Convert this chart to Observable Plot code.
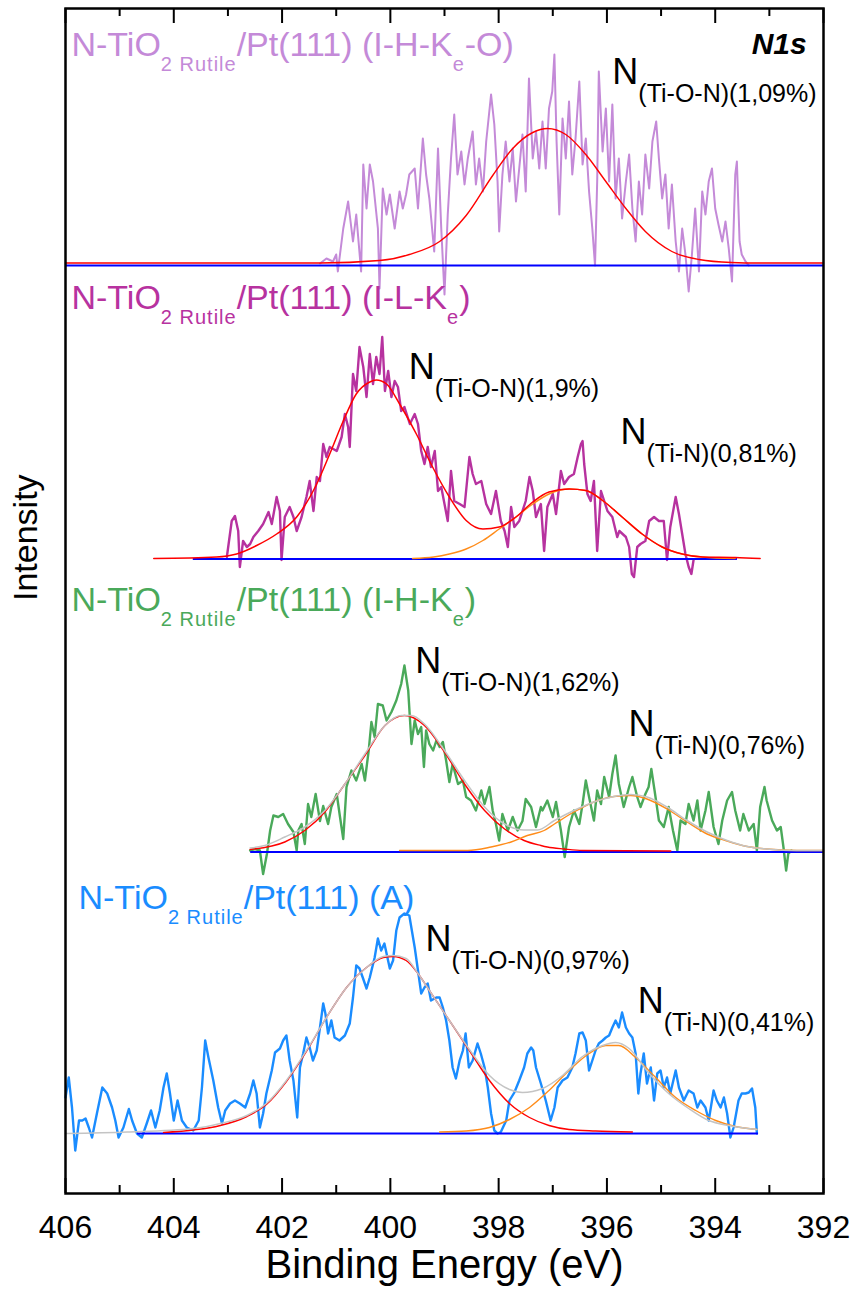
<!DOCTYPE html>
<html><head><meta charset="utf-8">
<script src="https://cdn.jsdelivr.net/npm/d3@7"></script>
<script src="https://cdn.jsdelivr.net/npm/@observablehq/plot@0.6"></script>
<style>
html,body{margin:0;padding:0;background:#fff;}
#chart svg{display:block;}
</style></head><body><div id="chart"></div>
<script>
// ---------- axis ----------
const xTicksMajor = [406,404,402,400,398,396,394,392];
const xTicksMinor = [405,403,401,399,397,395,393];
const xLabel = "Binding Energy (eV)";
const yLabel = "Intensity";
const coreLevel = "N1s";

// vertical offsets of the stacked spectra (intensity units)
const offsets = [928, 634.5, 341.5, 60];
const seriesColors = ["#c48ad8", "#b7329f", "#4aa95a", "#1a8cff"];
const sampleTitles = [
  "N-TiO_{2 Rutile}/Pt(111) (I-H-K_{e}-O)",
  "N-TiO_{2 Rutile}/Pt(111) (I-L-K_{e})",
  "N-TiO_{2 Rutile}/Pt(111) (I-H-K_{e})",
  "N-TiO_{2 Rutile}/Pt(111) (A)"
];
const titleX = [405.89, 405.89, 405.89, 405.76];
const titleY = [1138, 885, 583, 285];

const peakLabels = ["N_{(Ti-O-N)(1,09%)}", "N_{(Ti-O-N)(1,9%)}", "N_{(Ti-N)(0,81%)}", "N_{(Ti-O-N)(1,62%)}", "N_{(Ti-N)(0,76%)}", "N_{(Ti-O-N)(0,97%)}", "N_{(Ti-N)(0,41%)}"];
const peakLabelX = [395.90, 399.66, 395.75, 399.54, 395.60, 399.35, 395.43];
const peakLabelY = [1110, 815, 750, 521, 458, 243, 181];

// extents of the background lines [from, to] in eV
const baseExtents = [[406, 392], [403.64, 393.59], [402.58, 392], [404.67, 393.2]];

// ---------- spectrum 1 : I-H-Ke-O ----------
const ihkeoData = [[401.30,2],[401.18,7],[401.06,4],[401.00,11],[400.97,-6],[400.87,37],[400.78,64],[400.69,24],[400.63,51],[400.54,-6],[400.50,101],[400.44,57],[400.38,101],[400.32,84],[400.23,37],[400.20,-23],[400.14,77],[400.07,51],[400.01,71],[399.92,37],[399.83,74],[399.77,57],[399.71,71],[399.65,91],[399.55,97],[399.49,57],[399.40,127],[399.34,91],[399.28,67],[399.19,14],[399.12,117],[399.06,37],[399.00,-29],[398.94,51],[398.88,107],[398.82,151],[398.76,91],[398.69,114],[398.63,81],[398.57,107],[398.48,134],[398.42,81],[398.36,107],[398.29,74],[398.23,124],[398.14,171],[398.08,141],[398.02,84],[397.99,34],[397.93,91],[397.87,124],[397.80,84],[397.74,117],[397.68,64],[397.62,97],[397.56,131],[397.50,74],[397.44,187],[397.37,107],[397.31,134],[397.25,97],[397.19,144],[397.13,97],[397.07,157],[397.01,174],[396.97,211],[396.93,124],[396.88,51],[396.82,147],[396.76,107],[396.70,164],[396.64,91],[396.58,127],[396.51,184],[396.45,101],[396.39,127],[396.33,74],[396.27,37],[396.22,0],[396.18,84],[396.15,194],[396.08,114],[396.02,157],[395.96,84],[395.90,161],[395.84,67],[395.78,107],[395.72,47],[395.65,84],[395.59,111],[395.53,57],[395.47,24],[395.41,84],[395.35,51],[395.29,111],[395.22,77],[395.16,124],[395.09,144],[395.04,107],[394.98,67],[394.92,91],[394.86,37],[394.80,81],[394.73,24],[394.67,-6],[394.61,37],[394.55,11],[394.49,-26],[394.43,11],[394.37,57],[394.30,-6],[394.24,74],[394.18,51],[394.12,84],[394.06,97],[394.00,57],[393.94,41],[393.87,24],[393.81,44],[393.75,17],[393.69,-16],[393.63,91],[393.60,104],[393.55,24],[393.51,11],[393.44,4],[393.38,0]];
const ihkeoFitTiON = [[406.0,2.5],[401.30,2.5],[400.20,5],[399.65,11],[399.09,24],[398.60,50],[398.11,90],[397.74,117],[397.37,133],[397.10,137],[396.76,131],[396.39,111],[396.02,84],[395.65,57],[395.29,34],[394.80,14],[394.30,6],[393.70,3],[393.20,2.5],[392.0,2.5]];

// ---------- spectrum 2 : I-L-Ke ----------
const ilkeData = [[403.02,2],[402.93,38],[402.87,43],[402.81,28],[402.78,-8],[402.72,18],[402.65,12],[402.59,15],[402.53,22],[402.44,28],[402.35,35],[402.25,47],[402.19,35],[402.10,62],[402.04,48],[402.01,-1],[401.95,42],[401.86,52],[401.79,42],[401.73,28],[401.64,42],[401.55,62],[401.49,78],[401.42,48],[401.36,82],[401.30,78],[401.24,115],[401.18,102],[401.12,112],[400.99,108],[400.90,122],[400.84,145],[400.78,132],[400.75,112],[400.69,185],[400.63,168],[400.57,212],[400.50,192],[400.44,162],[400.38,205],[400.32,175],[400.26,202],[400.20,185],[400.15,222],[400.10,168],[400.04,188],[399.98,162],[399.92,178],[399.86,172],[399.80,148],[399.74,152],[399.64,135],[399.55,145],[399.49,135],[399.43,108],[399.37,95],[399.31,112],[399.25,92],[399.18,108],[399.12,68],[399.06,72],[399.00,55],[398.94,38],[398.88,88],[398.82,58],[398.72,55],[398.63,52],[398.54,102],[398.48,85],[398.42,75],[398.32,78],[398.23,55],[398.14,45],[398.05,68],[397.96,38],[397.89,28],[397.83,12],[397.77,52],[397.71,32],[397.62,38],[397.50,58],[397.43,82],[397.37,68],[397.31,42],[397.22,55],[397.16,8],[397.10,52],[397.00,65],[396.94,45],[396.85,88],[396.79,75],[396.70,82],[396.61,85],[396.54,102],[396.48,115],[396.45,118],[396.42,95],[396.36,65],[396.30,58],[396.24,78],[396.18,8],[396.11,68],[396.05,58],[395.99,48],[395.90,42],[395.81,22],[395.77,28],[395.65,22],[395.59,12],[395.54,-15],[395.50,-18],[395.44,12],[395.38,15],[395.29,18],[395.22,38],[395.13,42],[395.04,38],[394.95,38],[394.89,-1],[394.83,32],[394.73,62],[394.67,45],[394.61,25],[394.55,5],[394.49,-8],[394.44,-15],[394.40,-1]];
const ilkeEnvelope = [[404.37,0.5],[403.21,2],[402.84,5],[402.47,13.5],[402.10,25],[401.73,42],[401.36,75],[401.12,105],[400.87,138],[400.63,165],[400.38,177],[400.26,179],[400.07,175],[399.83,155],[399.52,125],[399.22,92],[398.91,62],[398.60,38.5],[398.29,30],[397.99,32],[397.68,42],[397.37,57],[397.07,67],[396.70,70],[396.39,68.5],[396.08,58.5],[395.72,42],[395.35,25],[394.98,12],[394.61,5],[394.24,2],[393.63,1.5],[393.17,0.5]];
const ilkeFitTiN = [[399.59,0.5],[399.20,2],[398.91,5],[398.60,10],[398.29,18.5],[397.99,30],[397.68,42],[397.37,55],[397.07,65],[396.70,70],[396.39,68.5],[396.08,58.5],[395.72,42],[395.35,25],[394.98,12],[394.61,5],[394.24,2],[393.63,0.5]];

// ---------- spectrum 3 : I-H-Ke ----------
const ihkeData = [[402.59,1.5],[402.50,3],[402.41,1.5],[402.35,-22],[402.28,-2],[402.22,21.5],[402.16,36.5],[402.07,35],[401.98,38],[401.89,28],[401.79,20],[401.73,1.5],[401.70,21.5],[401.64,28],[401.58,8],[401.52,48],[401.46,35],[401.38,58],[401.30,31],[401.24,46],[401.15,28],[401.09,45],[400.99,58],[400.93,35],[400.87,13],[400.81,65],[400.72,81.5],[400.63,71.5],[400.53,88],[400.47,71.5],[400.40,101.5],[400.35,130],[400.29,115],[400.23,148],[400.14,146.5],[400.07,131.5],[399.98,140],[399.89,151.5],[399.80,168],[399.74,186.5],[399.67,161.5],[399.61,108],[399.55,131.5],[399.49,118],[399.43,125],[399.38,85],[399.34,121.5],[399.28,108],[399.21,101.5],[399.15,111.5],[399.09,105],[399.03,110],[398.97,91.5],[398.91,70],[398.85,88],[398.75,68],[398.66,71.5],[398.60,55],[398.51,51.5],[398.42,41.5],[398.32,61.5],[398.26,48],[398.17,65],[398.11,41.5],[398.05,28],[397.99,11.5],[397.93,38],[397.83,21.5],[397.74,35],[397.65,21.5],[397.56,31],[397.50,53],[397.40,45],[397.31,25],[397.22,45],[397.19,41.5],[397.10,51.5],[397.00,35],[396.94,50],[396.85,21.5],[396.78,-5],[396.70,25],[396.61,41.5],[396.51,28],[396.45,48],[396.39,71.5],[396.33,55],[396.24,31.5],[396.18,61.5],[396.11,48],[396.05,75],[395.96,55],[395.90,78],[395.84,96.5],[395.78,68],[395.69,45],[395.59,65],[395.53,75],[395.44,55],[395.38,45],[395.29,58],[395.23,65],[395.18,83],[395.12,61.5],[395.04,31.5],[394.95,25],[394.86,45],[394.78,21.5],[394.70,1.5],[394.64,31.5],[394.55,28],[394.49,48],[394.40,31.5],[394.33,51.5],[394.27,21.5],[394.18,41.5],[394.12,60],[394.03,25],[393.94,8],[393.87,31.5],[393.78,51.5],[393.69,60],[393.63,41.5],[393.54,21.5],[393.48,38],[393.38,21.5],[393.29,28],[393.23,1.5],[393.17,45],[393.09,65],[393.05,51.5],[392.95,31.5],[392.86,21.5],[392.79,25],[392.74,5],[392.69,-18.5],[392.65,-1.5],[392.59,1.5]];
const ihkeEnvelope = [[402.59,4],[402.32,6.5],[401.95,15],[401.58,25],[401.21,41.5],[400.84,68],[400.47,98],[400.10,126.5],[399.80,136.5],[399.61,136.5],[399.37,128],[399.00,101.5],[398.63,71.5],[398.26,45],[397.89,28],[397.53,22],[397.28,22],[396.97,31.5],[396.61,41.5],[396.24,50],[395.87,55.5],[395.56,57.5],[395.26,55],[394.89,45],[394.52,31.5],[394.15,20],[393.78,11.5],[393.41,5.5],[393.05,3],[392.49,1.5],[392.0,1.5]];
const ihkeFitTiON = [[402.59,2.5],[401.95,10],[401.58,21.5],[401.21,40],[400.84,68],[400.47,96.5],[400.10,126.5],[399.74,136.5],[399.37,126.5],[399.00,100],[398.63,68],[398.26,41.5],[397.89,23],[397.53,11.5],[397.22,6.5],[397.10,5],[396.79,3],[396.45,1.5],[394.82,1]];
const ihkeFitTiN = [[399.83,1.5],[398.57,1.5],[398.14,5],[397.77,10],[397.47,16.5],[397.16,21.5],[396.97,28],[396.61,40],[396.24,50],[395.87,55.5],[395.56,56.5],[395.26,53],[394.89,43],[394.52,30],[394.15,18],[393.78,11],[393.41,5.5],[393.05,3],[392.49,1.5],[392.0,1.5]];

// ---------- spectrum 4 : A ----------
const aData = [[406.00,36],[405.94,56],[405.88,26],[405.82,-17],[405.75,13],[405.69,13],[405.63,15],[405.57,6],[405.51,-4],[405.42,20],[405.32,46],[405.23,40],[405.14,26],[405.08,13],[405.02,-4],[404.93,6],[404.83,24.5],[404.77,13],[404.68,0],[404.59,-4],[404.50,10],[404.42,23],[404.34,6],[404.26,23],[404.19,46],[404.13,60],[404.07,40],[404.00,13],[403.93,33],[403.85,13],[403.76,6],[403.64,3],[403.54,13],[403.48,46],[403.42,93],[403.36,76],[403.27,53],[403.18,26],[403.11,10],[403.05,23],[402.96,30],[402.87,33],[402.78,30],[402.68,26],[402.59,40],[402.53,53],[402.47,40],[402.41,6],[402.35,20],[402.29,40],[402.19,63],[402.13,81],[402.04,85],[401.98,93],[401.92,98],[401.86,73],[401.79,53],[401.72,16],[401.67,66],[401.61,80],[401.55,96],[401.49,86],[401.43,73],[401.36,83],[401.30,106],[401.24,130],[401.20,120],[401.15,100],[401.09,113],[401.03,96],[400.94,93],[400.84,98],[400.75,110],[400.69,136],[400.63,168],[400.57,165],[400.51,156],[400.44,145],[400.38,156],[400.29,176],[400.23,195],[400.17,183],[400.11,190],[400.01,165],[399.95,173],[399.89,203],[399.83,216],[399.74,220],[399.65,218],[399.55,186],[399.49,163],[399.43,140],[399.37,146],[399.31,150],[399.25,133],[399.15,136],[399.09,136],[399.03,126],[398.97,113],[398.91,93],[398.85,66],[398.79,55],[398.72,73],[398.66,83],[398.61,100],[398.55,66],[398.48,73],[398.39,90],[398.33,80],[398.26,66],[398.20,46],[398.14,20],[398.08,3],[398.02,0],[397.96,1.5],[397.86,13],[397.80,33],[397.71,41],[397.62,53],[397.53,66],[397.47,80],[397.40,86],[397.36,83],[397.31,66],[397.22,50],[397.13,33],[397.04,13],[396.97,26],[396.91,46],[396.82,53],[396.73,56],[396.64,66],[396.58,80],[396.51,100],[396.45,101],[396.39,93],[396.33,63],[396.27,73],[396.21,83],[396.15,90],[396.08,93],[396.02,96],[395.96,98],[395.90,106],[395.84,113],[395.78,106],[395.72,121],[395.65,106],[395.59,100],[395.53,96],[395.47,80],[395.42,40],[395.38,60],[395.32,80],[395.26,50],[395.19,66],[395.13,33],[395.07,60],[395.01,63],[394.95,46],[394.89,56],[394.83,40],[394.73,63],[394.67,46],[394.58,33],[394.49,43],[394.40,40],[394.33,26],[394.27,33],[394.18,26],[394.12,13],[394.03,43],[393.97,33],[393.90,26],[393.84,36],[393.78,20],[393.72,-4],[393.66,6],[393.57,33],[393.51,40],[393.44,40],[393.38,41],[393.32,45],[393.26,26],[393.23,0]];
const aEnvelope = [[406.00,0],[404.86,1.5],[403.64,5],[403.14,10],[402.65,18],[402.29,30],[401.92,53],[401.55,83],[401.18,116],[400.81,146],[400.44,166],[400.13,177],[399.95,178],[399.71,175],[399.49,160],[399.28,143],[398.91,113],[398.54,84],[398.17,58],[397.80,44],[397.56,41],[397.19,45],[396.82,58],[396.45,77],[396.08,88],[395.84,91],[395.59,85],[395.22,60],[394.86,40],[394.49,25],[394.12,13],[393.75,8],[393.23,4]];
const aFitTiON = [[404.19,1],[403.14,8],[402.65,17],[402.29,29],[401.92,52],[401.55,82],[401.18,116],[400.81,146],[400.44,166],[400.13,176],[399.95,177],[399.71,173],[399.49,160],[399.28,143],[398.91,113],[398.54,83],[398.17,53],[397.80,30],[397.43,16],[397.07,8],[396.70,4],[396.21,2.5],[395.53,1.5]];
const aFitTiN = [[399.09,1.5],[398.60,2.5],[398.17,6],[397.80,14],[397.43,26],[397.07,43],[396.70,63],[396.33,80],[396.02,88],[395.78,88],[395.47,76],[395.10,56],[394.73,36],[394.36,23],[393.99,13],[393.63,7],[393.23,4]];

// ---------- build ----------
const rows = (pairs, off) => pairs.map(([e, h]) => ({e, v: h + off}));
const spectra = [ihkeoData, ilkeData, ihkeData, aData];
const envelopes = [null, ilkeEnvelope, ihkeEnvelope, aEnvelope];
const fitTiON = [ihkeoFitTiON, null, ihkeFitTiON, aFitTiON];
const fitTiN = [null, ilkeFitTiN, ihkeFitTiN, aFitTiN];

const marks = [];
spectra.forEach((d, i) => {
  const off = offsets[i];
  marks.push(Plot.line(rows(d, off), {x: "e", y: "v", stroke: seriesColors[i], strokeWidth: i === 0 ? 2 : 2.4, strokeLinejoin: "round"}));
  marks.push(Plot.ruleY([{y: off, x1: baseExtents[i][0], x2: baseExtents[i][1]}], {y: "y", x1: "x1", x2: "x2", stroke: "#0000ff", strokeWidth: 2}));
  if (fitTiON[i]) marks.push(Plot.line(rows(fitTiON[i], off), {x: "e", y: "v", stroke: "#ff0000", strokeWidth: 1.4, curve: "monotone-x"}));
  if (fitTiN[i]) marks.push(Plot.line(rows(fitTiN[i], off), {x: "e", y: "v", stroke: "#ff8c1a", strokeWidth: 1.4, curve: "monotone-x"}));
  if (envelopes[i]) marks.push(Plot.line(rows(envelopes[i], off), {x: "e", y: "v", stroke: i === 1 ? "#ff0000" : "#c4c4c4", strokeWidth: 1.5, curve: "monotone-x"}));
});

// frame ticks (inward, top and bottom)
marks.push(Plot.ruleX(xTicksMajor, {x: d => d, insetTop: 1185 - 15, stroke: "black", strokeWidth: 2}));
marks.push(Plot.ruleX(xTicksMinor, {x: d => d, insetTop: 1185 - 8, stroke: "black", strokeWidth: 2}));
marks.push(Plot.ruleX(xTicksMajor, {x: d => d, insetBottom: 1185 - 15, stroke: "black", strokeWidth: 2}));
marks.push(Plot.ruleX(xTicksMinor, {x: d => d, insetBottom: 1185 - 8, stroke: "black", strokeWidth: 2}));
marks.push(Plot.frame({stroke: "black", strokeWidth: 2.5}));

// tick labels and axis titles
marks.push(Plot.text(xTicksMajor, {x: d => d, text: d => String(d), frameAnchor: "bottom", dy: 44, lineAnchor: "bottom", fontSize: 32, fill: "black"}));
marks.push(Plot.text([xLabel], {frameAnchor: "bottom", dy: 84, lineAnchor: "bottom", fontSize: 40, fill: "black"}));
marks.push(Plot.text([yLabel], {frameAnchor: "left", dx: -39, rotate: -90, fontSize: 34, fill: "black"}));

// sample titles
marks.push(Plot.text(sampleTitles.map((t, i) => ({t, x: titleX[i], y: titleY[i], c: seriesColors[i]})),
  {x: "x", y: "y", text: "t", fill: d => d.c, textAnchor: "start", lineAnchor: "bottom", fontSize: 34}));
// peak labels
marks.push(Plot.text(peakLabels.map((t, i) => ({t, x: peakLabelX[i], y: peakLabelY[i]})),
  {x: "x", y: "y", text: "t", fill: "black", textAnchor: "start", lineAnchor: "bottom", fontSize: 36}));
// core level
marks.push(Plot.text([coreLevel], {x: 392.31, y: 1140, textAnchor: "end", lineAnchor: "bottom", fontSize: 30, fontStyle: "italic", fontWeight: "bold", fill: "black"}));

const chart = Plot.plot({
  width: 858,
  height: 1292,
  marginLeft: 65,
  marginRight: 35,
  marginTop: 8,
  marginBottom: 99,
  x: {domain: [406, 392], axis: null},
  y: {domain: [0, 1185], axis: null},
  color: {type: "identity"},
  style: {fontFamily: "'Liberation Sans', Arial, sans-serif", background: "white", overflow: "visible"},
  marks
});

// turn "_{...}" into real subscripts (tspans)
function subscriptify(svg) {
  svg.querySelectorAll("text").forEach(t => {
    const s = t.textContent;
    if (!s.includes("_{")) return;
    const isPeak = s.startsWith("N_{");
    const subSize = isPeak ? 25 : 20;
    const shift = isPeak ? 18 : 15;
    const parts = s.split(/(_\{[^}]*\})/);
    while (t.firstChild) t.removeChild(t.firstChild);
    let down = false;
    for (const p of parts) {
      if (!p) continue;
      const ts = document.createElementNS("http://www.w3.org/2000/svg", "tspan");
      if (p.startsWith("_{")) {
        ts.textContent = p.slice(2, -1);
        ts.setAttribute("font-size", subSize);
        ts.setAttribute("dy", shift);
        if (!isPeak) ts.setAttribute("letter-spacing", "1");
        down = true;
      } else {
        ts.textContent = p;
        if (down) { ts.setAttribute("dy", -shift); down = false; }
      }
      t.appendChild(ts);
    }
  });
}
subscriptify(chart);

document.getElementById("chart").appendChild(chart);
</script>
</body></html>
